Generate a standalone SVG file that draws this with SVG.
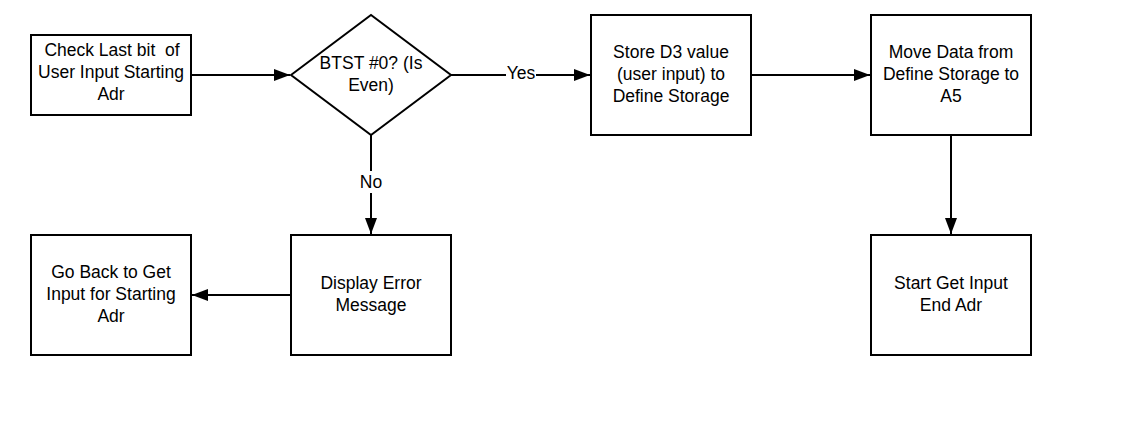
<svg xmlns="http://www.w3.org/2000/svg" width="1144" height="442" viewBox="0 0 1144 442">
<style>
.n{fill:#fff;stroke:#000;stroke-width:2}
.t{font-family:"Liberation Sans",Arial,sans-serif;font-size:17.5px;fill:#000;text-anchor:middle}
.c{fill:none;stroke:#000;stroke-width:2}
.lbl{font-family:"Liberation Sans",Arial,sans-serif;font-size:17.5px;fill:#000;text-anchor:middle}
</style>
<defs>
<marker id="ah" markerWidth="16" markerHeight="12" refX="16" refY="6" orient="auto" markerUnits="userSpaceOnUse">
<path d="M0,0 L16,6 L0,12 Z" fill="#000"/>
</marker>
</defs>
<rect width="1144" height="442" fill="#fff"/>
<g id="connectors">
<line class="c" x1="191" y1="75" x2="290" y2="75" marker-end="url(#ah)"/>
<line class="c" x1="451" y1="75" x2="590" y2="75" marker-end="url(#ah)"/>
<line class="c" x1="751" y1="75" x2="870" y2="75" marker-end="url(#ah)"/>
<line class="c" x1="951" y1="135" x2="951" y2="234" marker-end="url(#ah)"/>
<line class="c" x1="371" y1="135" x2="371" y2="234" marker-end="url(#ah)"/>
<line class="c" x1="291" y1="295" x2="192" y2="295" marker-end="url(#ah)"/>
<rect x="506" y="64" width="30" height="20" fill="#fff"/>
<text class="lbl" x="521" y="79">Yes</text>
<rect x="358" y="171" width="26" height="22" fill="#fff"/>
<text class="lbl" x="371" y="188">No</text>
</g>
<g id="check">
<rect class="n" x="31" y="35" width="160" height="80"/>
<text class="t" x="112" y="56" style="white-space:pre">Check Last bit  of</text>
<text class="t" x="111" y="78">User Input Starting</text>
<text class="t" x="111" y="100">Adr</text>
</g>
<g id="btst">
<polygon class="n" points="291,75 371,15 451,75 371,135"/>
<text class="t" x="371" y="69">BTST #0? (Is</text>
<text class="t" x="371" y="91">Even)</text>
</g>
<g id="store">
<rect class="n" x="591" y="15" width="160" height="120"/>
<text class="t" x="671" y="58">Store D3 value</text>
<text class="t" x="671" y="80">(user input) to</text>
<text class="t" x="671" y="102">Define Storage</text>
</g>
<g id="move">
<rect class="n" x="871" y="15" width="160" height="120"/>
<text class="t" x="951" y="58">Move Data from</text>
<text class="t" x="951" y="80">Define Storage to</text>
<text class="t" x="951" y="102">A5</text>
</g>
<g id="start">
<rect class="n" x="871" y="235" width="160" height="120"/>
<text class="t" x="951" y="289">Start Get Input</text>
<text class="t" x="951" y="311">End Adr</text>
</g>
<g id="display">
<rect class="n" x="291" y="235" width="160" height="120"/>
<text class="t" x="371" y="289">Display Error</text>
<text class="t" x="371" y="311">Message</text>
</g>
<g id="goback">
<rect class="n" x="31" y="235" width="160" height="120"/>
<text class="t" x="111" y="278">Go Back to Get</text>
<text class="t" x="111" y="300">Input for Starting</text>
<text class="t" x="111" y="322">Adr</text>
</g>
</svg>
